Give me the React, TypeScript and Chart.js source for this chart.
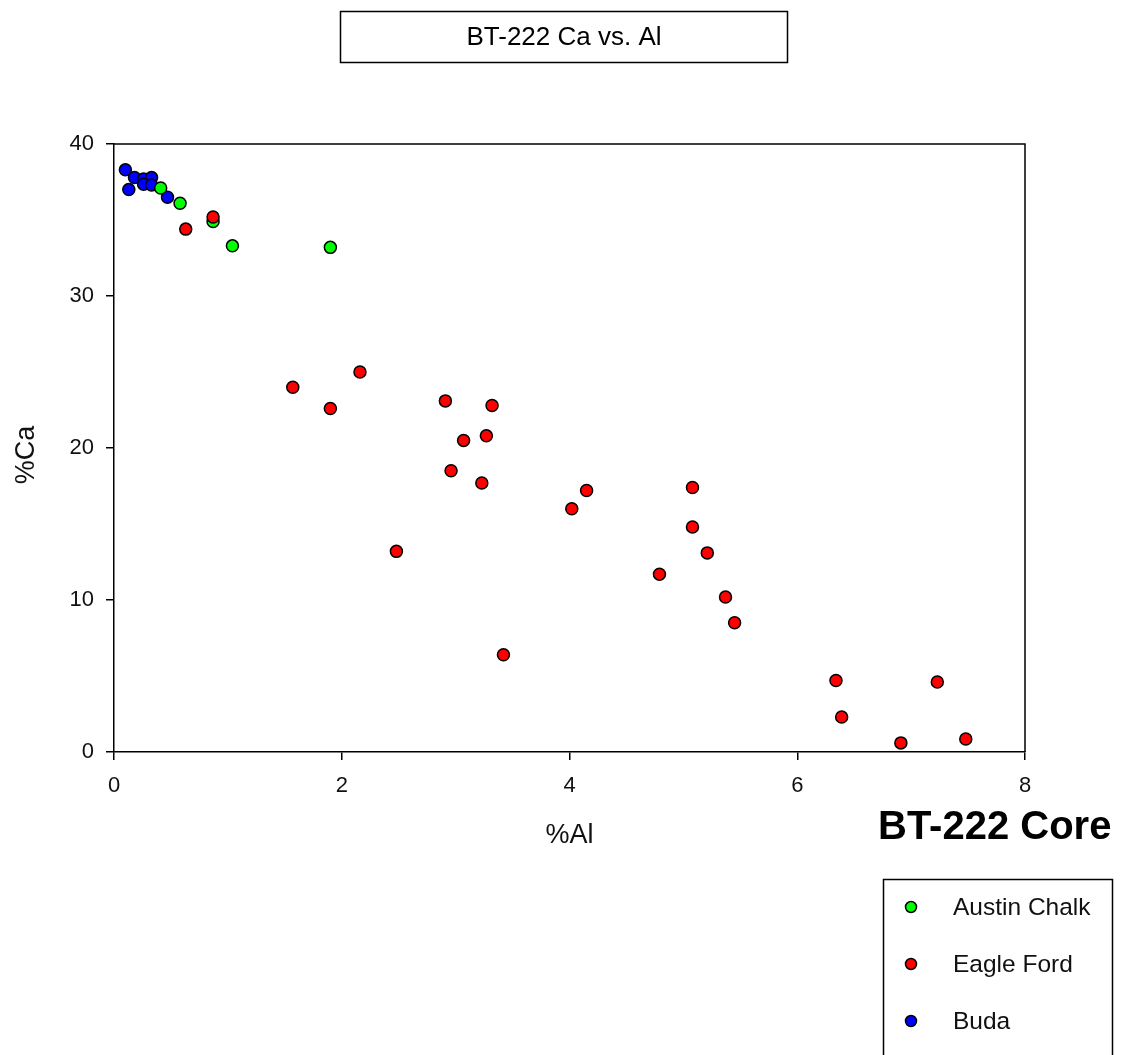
import React, { useEffect, useRef } from "react";
import { Chart, registerables } from "chart.js";

Chart.register(...registerables);

const chartTitle = "BT-222 Ca vs. Al";
const xTitle = "%Al";
const yTitle = "%Ca";
const coreLabel = "BT-222 Core";

const seriesNames = ["Austin Chalk", "Eagle Ford", "Buda"];
const seriesColors = ["#00ff00", "#ff0000", "#0000ff"];

const austinAl = [0.41, 0.58, 0.87, 1.04, 1.9];
const austinCa = [37.1, 36.1, 34.9, 33.3, 33.2];

const eagleAl = [0.63, 0.87, 1.57, 1.9, 2.16, 2.48, 2.91, 2.96, 3.07, 3.23, 3.27, 3.32, 3.42, 4.02, 4.15, 4.79, 5.08, 5.08, 5.21, 5.37, 5.45, 6.34, 6.39, 6.91, 7.23, 7.48];
const eagleCa = [34.4, 35.2, 24.0, 22.6, 25.0, 13.2, 23.1, 18.5, 20.5, 17.7, 20.8, 22.8, 6.4, 16.0, 17.2, 11.7, 17.4, 14.8, 13.1, 10.2, 8.5, 4.7, 2.3, 0.6, 4.6, 0.86];

const budaAl = [0.1, 0.18, 0.26, 0.33, 0.13, 0.26, 0.33, 0.47];
const budaCa = [38.3, 37.8, 37.7, 37.8, 37.0, 37.35, 37.3, 36.5];

const xMin = 0;
const xMax = 8;
const xStep = 2;
const yMin = 0;
const yMax = 40;
const yStep = 10;

const FONT = "'Liberation Sans', Arial, sans-serif";

function pts(xs: number[], ys: number[]) {
  return xs.map((x, i) => ({ x, y: ys[i] }));
}

const decorPlugin = {
  id: "decor",
  afterDraw(chart: any) {
    const ctx = chart.ctx as CanvasRenderingContext2D;
    const a = chart.chartArea;
    ctx.save();
    // frame
    ctx.strokeStyle = "#000";
    ctx.lineWidth = 1.5;
    ctx.beginPath();
    ctx.moveTo(a.left, a.top);
    ctx.lineTo(a.right, a.top);
    ctx.lineTo(a.right, a.bottom);
    ctx.stroke();

    // title box
    ctx.lineWidth = 1.5;
    ctx.strokeRect(340.5, 11.5, 447, 51);
    ctx.fillStyle = "#000";
    ctx.font = `26px ${FONT}`;
    ctx.textAlign = "center";
    ctx.textBaseline = "middle";
    ctx.fillText(chartTitle, 564, 38);

    // axis titles
    ctx.fillStyle = "#111";
    ctx.font = `27px ${FONT}`;
    ctx.fillText(xTitle, (a.left + a.right) / 2, 836);
    ctx.save();
    ctx.translate(27, 455);
    ctx.rotate(-Math.PI / 2);
    ctx.fillText(yTitle, 0, 0);
    ctx.restore();

    // core label
    ctx.fillStyle = "#000";
    ctx.font = `bold 40px ${FONT}`;
    ctx.textAlign = "left";
    ctx.fillText(coreLabel, 878, 828);

    // legend
    ctx.strokeStyle = "#000";
    ctx.lineWidth = 1.5;
    ctx.strokeRect(883.5, 879.5, 229, 200);
    ctx.font = `24.5px ${FONT}`;
    const rows = [907, 964, 1021];
    seriesNames.forEach((name, i) => {
      const y = rows[i];
      ctx.beginPath();
      ctx.arc(911, y, 5.5, 0, Math.PI * 2);
      ctx.fillStyle = seriesColors[i];
      ctx.fill();
      ctx.lineWidth = 1.5;
      ctx.strokeStyle = "#000";
      ctx.stroke();
      ctx.fillStyle = "#111";
      ctx.textAlign = "left";
      ctx.textBaseline = "middle";
      ctx.fillText(name, 953, y + 1);
    });
    ctx.restore();
  },
};

export default function App() {
  const ref = useRef<HTMLCanvasElement>(null);

  useEffect(() => {
    if (!ref.current) return;
    const mk = (idx: number, xs: number[], ys: number[], order: number) => ({
      label: seriesNames[idx],
      data: pts(xs, ys),
      backgroundColor: seriesColors[idx],
      borderColor: "#000",
      borderWidth: 1.5,
      pointRadius: 6,
      pointHoverRadius: 6,
      order,
    });
    const chart = new Chart(ref.current, {
      type: "scatter",
      data: {
        datasets: [
          mk(1, eagleAl, eagleCa, 0),
          mk(0, austinAl, austinCa, 1),
          mk(2, budaAl, budaCa, 2),
        ],
      },
      options: {
        responsive: false,
        animation: false,
        devicePixelRatio: 1,
        events: [],
        layout: { padding: { left: 0, top: 144, right: 97, bottom: 0 } },
        plugins: {
          legend: { display: false },
          title: { display: false },
          tooltip: { enabled: false },
        },
        scales: {
          x: {
            type: "linear",
            min: xMin,
            max: xMax,
            afterFit(scale: any) {
              scale.height = 303;
            },
            ticks: {
              stepSize: xStep,
              padding: 13,
              color: "#111",
              font: { family: FONT, size: 22 },
            },
            grid: {
              display: true,
              drawOnChartArea: false,
              drawTicks: true,
              tickLength: 8,
              color: "#000",
              lineWidth: 1.5,
            },
            border: { display: true, color: "#000", width: 1.5 },
          },
          y: {
            type: "linear",
            min: yMin,
            max: yMax,
            afterFit(scale: any) {
              scale.width = 114;
            },
            ticks: {
              stepSize: yStep,
              padding: 12,
              color: "#111",
              font: { family: FONT, size: 22 },
            },
            grid: {
              display: true,
              drawOnChartArea: false,
              drawTicks: true,
              tickLength: 8,
              color: "#000",
              lineWidth: 1.5,
            },
            border: { display: true, color: "#000", width: 1.5 },
          },
        },
      },
      plugins: [decorPlugin],
    });
    return () => chart.destroy();
  }, []);

  return (
    <div style={{ position: "absolute", left: 0, top: 0, width: 1122, height: 1055, background: "#fff", overflow: "hidden" }}>
      <canvas ref={ref} width={1122} height={1055} />
    </div>
  );
}
